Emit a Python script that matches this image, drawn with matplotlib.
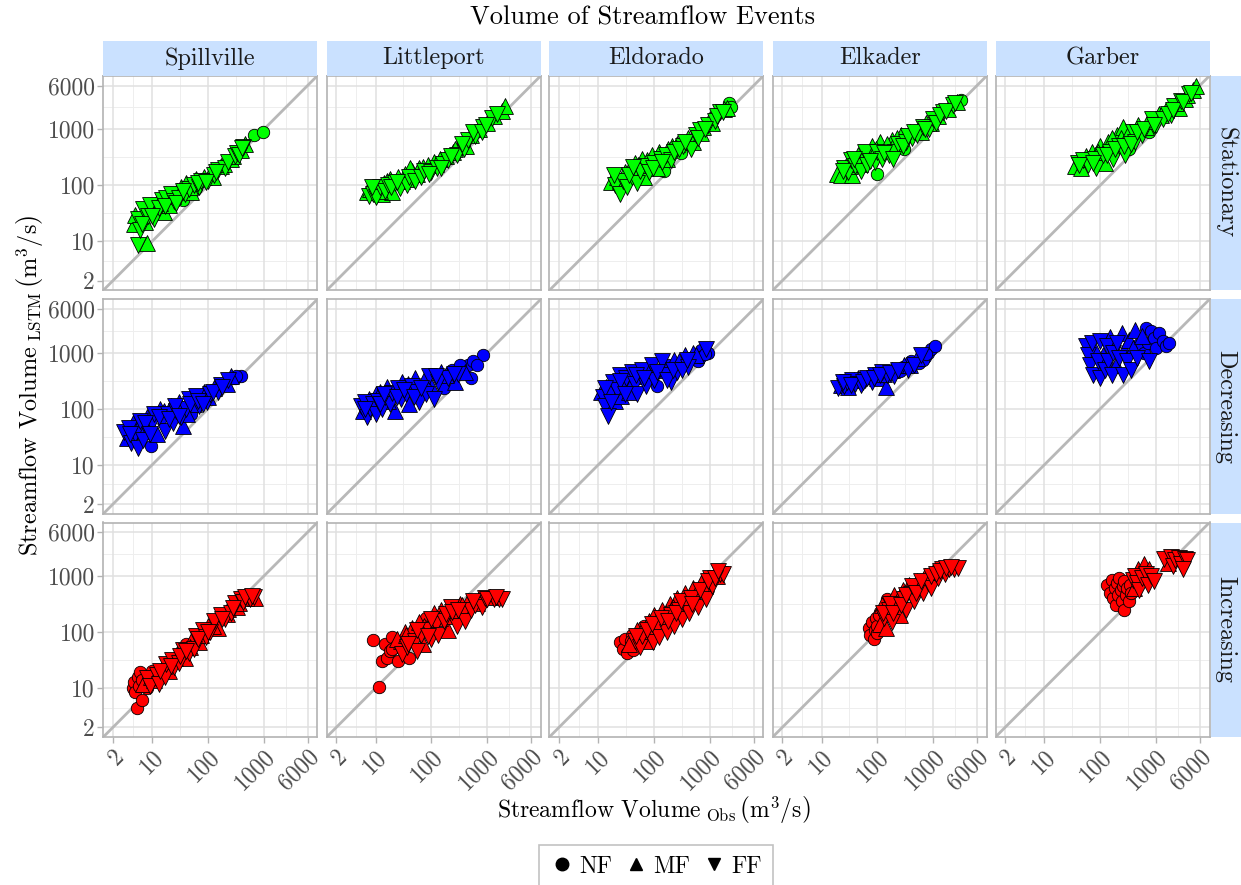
import matplotlib
matplotlib.use('Agg')
import matplotlib.pyplot as plt
from matplotlib.patches import Rectangle
from matplotlib.lines import Line2D

plt.rcParams['font.family'] = 'cmr10'
plt.rcParams['mathtext.fontset'] = 'cm'
plt.rcParams['axes.formatter.use_mathtext'] = True

# ---------------- data ----------------
sites = ['Spillville', 'Littleport', 'Eldorado', 'Elkader', 'Garber']
trends = ['Stationary', 'Decreasing', 'Increasing']
trend_colors = ['#00FF00', '#0000FF', '#FF0000']
tick_values = [2, 10, 100, 1000, 6000]
tick_labels = ['2', '10', '100', '1000', '6000']
minor_values = [4.47, 31.6, 316, 2449]
event_types = ['NF', 'MF', 'FF']
event_codes = ['N', 'M', 'F']

# (observed volume, LSTM volume, event type)
stationary_spillville = [
    (5.7, 8.5, 'F'), (8.0, 9.5, 'M'), (4.8, 20, 'M'), (5.5, 25, 'F'), (6.0, 16, 'F'), (6.5, 30, 'M'),
    (7.0, 38, 'F'), (7.5, 22, 'M'), (8.5, 28, 'F'), (9, 45, 'F'), (10, 35, 'M'), (11, 25, 'F'),
    (12, 50, 'M'), (13, 40, 'F'), (15, 55, 'F'), (16, 33, 'M'), (18, 60, 'F'), (20, 45, 'M'),
    (22, 70, 'F'), (25, 52, 'F'), (28, 80, 'M'), (30, 60, 'F'), (33, 95, 'M'), (38, 70, 'F'),
    (40, 110, 'M'), (45, 85, 'F'), (50, 75, 'M'), (55, 100, 'F'), (60, 130, 'M'), (70, 95, 'F'),
    (75, 120, 'F'), (85, 140, 'M'), (100, 120, 'F'), (110, 160, 'M'), (130, 150, 'F'), (150, 190, 'F'),
    (170, 220, 'M'), (200, 200, 'F'), (230, 260, 'F'), (260, 300, 'M'), (300, 330, 'F'), (330, 380, 'F'),
    (380, 420, 'M'), (420, 480, 'F'), (450, 550, 'M'), (650, 780, 'N'), (950, 900, 'N'), (60, 90, 'N'),
    (35, 55, 'N'), (5, 30, 'M'), (6.5, 20, 'F'), (8, 35, 'M'), (10, 28, 'F'), (14, 48, 'M'),
    (17, 42, 'F'), (24, 65, 'M'), (27, 48, 'F'), (36, 80, 'F'), (48, 95, 'M'), (65, 110, 'F'),
    (90, 115, 'F'), (120, 140, 'M'), (140, 170, 'F'), (190, 240, 'M'), (280, 330, 'M'), (350, 350, 'F'),
    (400, 470, 'F')]
stationary_littleport = [
    (7, 75, 'M'), (7.5, 65, 'F'), (8, 85, 'M'), (9, 70, 'F'), (10, 90, 'M'), (10, 62, 'F'),
    (11, 78, 'M'), (12, 95, 'F'), (13, 70, 'M'), (14, 110, 'M'), (15, 80, 'F'), (17, 100, 'F'),
    (18, 130, 'M'), (20, 75, 'M'), (22, 110, 'F'), (25, 140, 'M'), (27, 90, 'F'), (30, 120, 'M'),
    (33, 160, 'M'), (36, 100, 'F'), (40, 140, 'F'), (45, 180, 'M'), (50, 120, 'F'), (55, 160, 'M'),
    (60, 200, 'M'), (65, 140, 'F'), (75, 180, 'F'), (85, 230, 'M'), (100, 170, 'F'), (110, 260, 'M'),
    (125, 200, 'F'), (140, 300, 'M'), (160, 240, 'F'), (180, 330, 'M'), (200, 280, 'F'), (240, 400, 'M'),
    (280, 350, 'F'), (320, 500, 'M'), (380, 450, 'F'), (450, 650, 'F'), (500, 800, 'M'), (600, 750, 'F'),
    (700, 1000, 'M'), (850, 1100, 'F'), (1000, 1300, 'M'), (1200, 1600, 'F'), (1500, 1900, 'F'),
    (1800, 2100, 'M'), (2100, 2600, 'M'), (8.5, 95, 'F'), (12, 80, 'M'), (16, 120, 'M'), (19, 95, 'F'),
    (24, 115, 'F'), (35, 130, 'M'), (42, 200, 'M'), (70, 210, 'M'), (90, 160, 'F'), (120, 240, 'M'),
    (150, 200, 'F'), (220, 330, 'F'), (260, 450, 'M'), (350, 550, 'F'), (420, 500, 'M'), (550, 900, 'F'),
    (800, 900, 'F'), (950, 1200, 'F'), (1300, 1700, 'M')]
stationary_eldorado = [
    (17, 115, 'M'), (20, 100, 'F'), (22, 140, 'M'), (25, 70, 'F'), (28, 120, 'F'), (30, 170, 'M'),
    (33, 95, 'F'), (37, 200, 'M'), (40, 140, 'F'), (45, 250, 'M'), (50, 110, 'F'), (55, 180, 'F'),
    (60, 300, 'M'), (65, 140, 'M'), (70, 220, 'F'), (80, 170, 'F'), (90, 350, 'M'), (100, 250, 'F'),
    (110, 200, 'M'), (120, 400, 'M'), (130, 300, 'F'), (150, 180, 'N'), (160, 350, 'F'), (180, 450, 'M'),
    (200, 280, 'F'), (230, 400, 'F'), (260, 550, 'M'), (300, 380, 'N'), (330, 500, 'F'), (400, 700, 'M'),
    (450, 450, 'F'), (500, 600, 'M'), (550, 800, 'F'), (650, 950, 'F'), (750, 1100, 'M'), (900, 1200, 'F'),
    (1000, 1500, 'M'), (1200, 1400, 'F'), (1500, 2000, 'F'), (1800, 2300, 'M'), (2200, 2900, 'N'),
    (2400, 2500, 'N'), (19, 150, 'F'), (24, 120, 'M'), (35, 150, 'F'), (42, 210, 'F'), (52, 230, 'M'),
    (75, 280, 'M'), (95, 200, 'F'), (140, 260, 'F'), (170, 300, 'M'), (210, 500, 'M'), (280, 450, 'F'),
    (360, 600, 'F'), (420, 550, 'N'), (600, 700, 'F'), (700, 850, 'M'), (800, 1000, 'F'), (1100, 1300, 'M'),
    (1300, 1700, 'F'), (1700, 2000, 'F'), (2000, 2400, 'M')]
stationary_elkader = [
    (19, 160, 'M'), (22, 150, 'M'), (25, 200, 'F'), (28, 240, 'M'), (30, 170, 'F'), (33, 280, 'F'),
    (35, 150, 'M'), (40, 220, 'F'), (45, 350, 'M'), (50, 180, 'F'), (55, 280, 'M'), (60, 400, 'F'),
    (65, 230, 'F'), (70, 320, 'M'), (80, 500, 'M'), (90, 260, 'F'), (100, 400, 'F'), (100, 160, 'N'),
    (110, 600, 'M'), (120, 300, 'F'), (140, 450, 'M'), (160, 350, 'F'), (180, 650, 'M'), (200, 400, 'F'),
    (230, 550, 'F'), (260, 800, 'M'), (300, 450, 'N'), (320, 600, 'F'), (380, 900, 'M'), (420, 700, 'F'),
    (500, 800, 'F'), (550, 1000, 'M'), (650, 1100, 'F'), (750, 1300, 'M'), (850, 1000, 'F'),
    (1000, 1500, 'F'), (1200, 1700, 'M'), (1500, 2000, 'F'), (1800, 2300, 'M'), (2200, 2700, 'F'),
    (2600, 3000, 'M'), (3100, 3300, 'N'), (24, 180, 'F'), (32, 220, 'M'), (38, 300, 'F'), (48, 240, 'M'),
    (58, 350, 'M'), (75, 270, 'F'), (95, 450, 'M'), (130, 380, 'F'), (150, 550, 'M'), (190, 300, 'F'),
    (220, 700, 'M'), (280, 500, 'F'), (350, 750, 'F'), (450, 900, 'F'), (600, 900, 'M'), (700, 1000, 'F'),
    (900, 1300, 'M'), (1100, 1300, 'F'), (1300, 1800, 'F'), (1700, 2100, 'F'), (2400, 2900, 'F')]
stationary_garber = [
    (36, 220, 'M'), (40, 250, 'F'), (45, 200, 'M'), (50, 280, 'F'), (55, 330, 'M'), (60, 230, 'F'),
    (70, 400, 'M'), (80, 300, 'F'), (85, 200, 'F'), (100, 500, 'M'), (110, 350, 'F'), (120, 250, 'M'),
    (140, 600, 'M'), (150, 400, 'F'), (170, 300, 'F'), (200, 800, 'M'), (220, 500, 'F'), (250, 1100, 'M'),
    (280, 350, 'F'), (300, 650, 'M'), (330, 450, 'N'), (380, 900, 'F'), (420, 600, 'F'), (480, 1200, 'M'),
    (550, 800, 'F'), (650, 1100, 'M'), (750, 900, 'N'), (850, 1500, 'F'), (1000, 1200, 'F'),
    (1100, 1900, 'M'), (1300, 1500, 'F'), (1500, 2200, 'M'), (1800, 1800, 'F'), (2100, 2600, 'F'),
    (2500, 2400, 'M'), (2800, 3200, 'F'), (3300, 3500, 'M'), (3800, 4200, 'F'), (4500, 5000, 'M'),
    (5200, 5800, 'M'), (42, 230, 'F'), (65, 300, 'M'), (75, 250, 'F'), (90, 400, 'M'), (130, 350, 'F'),
    (160, 700, 'M'), (180, 450, 'F'), (230, 700, 'M'), (260, 500, 'F'), (320, 900, 'M'), (350, 550, 'F'),
    (450, 900, 'F'), (600, 1000, 'F'), (700, 1400, 'M'), (900, 1200, 'F'), (1200, 1800, 'M'),
    (1600, 1900, 'F'), (2000, 2200, 'F'), (2300, 2900, 'M'), (3000, 3000, 'F'), (3600, 4000, 'M'),
    (4200, 4500, 'F')]

decreasing_spillville = [
    (3.2, 38, 'F'), (3.5, 30, 'M'), (3.8, 45, 'F'), (4.2, 25, 'F'), (4.5, 55, 'M'), (5, 35, 'F'),
    (5.5, 20, 'F'), (6, 60, 'F'), (6.5, 40, 'M'), (7, 28, 'F'), (8, 70, 'M'), (8.5, 45, 'F'),
    (9.5, 22, 'N'), (10, 55, 'F'), (11, 80, 'F'), (12, 35, 'M'), (14, 100, 'M'), (15, 60, 'F'),
    (17, 40, 'F'), (19, 80, 'F'), (22, 110, 'M'), (24, 55, 'F'), (27, 90, 'F'), (30, 130, 'M'),
    (33, 70, 'F'), (36, 50, 'M'), (40, 100, 'F'), (45, 150, 'F'), (50, 80, 'N'), (55, 120, 'M'),
    (60, 170, 'F'), (70, 110, 'F'), (75, 140, 'N'), (85, 200, 'M'), (95, 130, 'F'), (110, 180, 'F'),
    (130, 230, 'M'), (150, 200, 'F'), (170, 260, 'F'), (200, 300, 'M'), (230, 330, 'F'), (260, 380, 'M'),
    (300, 350, 'N'), (390, 390, 'N'), (4, 35, 'F'), (5.5, 45, 'M'), (7.5, 55, 'F'), (9, 35, 'F'),
    (13, 70, 'F'), (16, 90, 'M'), (20, 65, 'F'), (26, 110, 'F'), (30, 75, 'F'), (42, 80, 'M'),
    (48, 120, 'F'), (65, 140, 'F'), (80, 120, 'F'), (100, 160, 'M'), (120, 200, 'F'), (180, 240, 'F'),
    (220, 280, 'M'), (320, 380, 'N')]
decreasing_littleport = [
    (5.5, 110, 'F'), (6, 90, 'M'), (6.5, 130, 'F'), (7, 70, 'F'), (7.5, 150, 'M'), (8, 100, 'F'),
    (9, 120, 'F'), (10, 180, 'M'), (10, 80, 'F'), (11, 140, 'F'), (12, 200, 'M'), (13, 100, 'F'),
    (15, 160, 'F'), (16, 240, 'M'), (18, 120, 'F'), (20, 190, 'F'), (22, 90, 'M'), (25, 230, 'F'),
    (28, 150, 'F'), (30, 300, 'M'), (35, 180, 'F'), (40, 120, 'M'), (45, 250, 'F'), (50, 350, 'M'),
    (55, 200, 'F'), (60, 130, 'F'), (70, 280, 'M'), (80, 180, 'F'), (90, 380, 'F'), (100, 250, 'M'),
    (110, 150, 'F'), (130, 300, 'F'), (150, 450, 'M'), (170, 230, 'N'), (200, 350, 'F'), (230, 500, 'N'),
    (260, 300, 'M'), (300, 420, 'F'), (350, 550, 'N'), (400, 450, 'M'), (450, 600, 'N'), (500, 350, 'N'),
    (830, 920, 'N'), (6.5, 100, 'F'), (8.5, 140, 'M'), (12, 120, 'F'), (14, 180, 'F'), (17, 140, 'M'),
    (24, 160, 'F'), (32, 220, 'F'), (38, 280, 'M'), (48, 160, 'F'), (65, 230, 'F'), (75, 330, 'M'),
    (120, 380, 'F'), (180, 400, 'M'), (250, 420, 'F'), (320, 600, 'N'), (550, 700, 'N'), (650, 600, 'N')]
decreasing_eldorado = [
    (11, 200, 'M'), (12, 160, 'F'), (13, 110, 'F'), (14, 240, 'M'), (15, 75, 'F'), (16, 180, 'F'),
    (18, 300, 'F'), (20, 140, 'M'), (22, 220, 'F'), (24, 400, 'F'), (26, 170, 'M'), (28, 260, 'F'),
    (32, 350, 'F'), (35, 200, 'M'), (40, 450, 'F'), (45, 280, 'F'), (50, 180, 'F'), (55, 380, 'M'),
    (60, 500, 'F'), (70, 250, 'F'), (80, 420, 'M'), (90, 600, 'F'), (100, 330, 'F'), (110, 250, 'N'),
    (120, 500, 'M'), (140, 700, 'F'), (160, 400, 'F'), (180, 600, 'N'), (200, 300, 'F'), (230, 750, 'M'),
    (260, 450, 'F'), (300, 650, 'N'), (350, 900, 'M'), (400, 550, 'F'), (450, 800, 'N'), (500, 1000, 'M'),
    (600, 700, 'N'), (700, 1100, 'N'), (900, 1000, 'N'), (850, 1150, 'F'), (13, 230, 'F'), (17, 130, 'F'),
    (19, 250, 'M'), (25, 310, 'F'), (30, 180, 'F'), (38, 320, 'M'), (48, 400, 'F'), (65, 350, 'F'),
    (75, 480, 'M'), (110, 450, 'F'), (150, 550, 'M'), (170, 330, 'F'), (220, 500, 'F'), (280, 700, 'M'),
    (320, 500, 'F'), (380, 750, 'F'), (550, 900, 'M'), (650, 850, 'N'), (800, 950, 'N')]
decreasing_elkader = [
    (20, 230, 'F'), (22, 270, 'M'), (25, 250, 'F'), (28, 300, 'F'), (30, 240, 'M'), (35, 320, 'F'),
    (40, 280, 'F'), (45, 350, 'M'), (50, 260, 'F'), (60, 330, 'F'), (70, 380, 'M'), (80, 300, 'F'),
    (90, 400, 'F'), (100, 350, 'M'), (120, 450, 'F'), (140, 240, 'M'), (150, 400, 'F'), (180, 500, 'M'),
    (200, 380, 'F'), (250, 480, 'N'), (300, 600, 'M'), (350, 500, 'F'), (400, 700, 'N'), (450, 600, 'F'),
    (500, 800, 'M'), (550, 650, 'N'), (600, 900, 'F'), (700, 850, 'N'), (800, 1000, 'N'),
    (900, 1150, 'N'), (1050, 1300, 'N'), (24, 300, 'F'), (33, 270, 'F'), (38, 330, 'M'), (55, 300, 'F'),
    (65, 350, 'F'), (85, 350, 'F'), (110, 400, 'F'), (130, 420, 'M'), (170, 430, 'F'), (230, 500, 'F'),
    (280, 550, 'N'), (380, 600, 'M'), (650, 750, 'N'), (750, 950, 'N')]
decreasing_garber = [
    (55, 1300, 'F'), (60, 900, 'F'), (65, 600, 'F'), (70, 1500, 'F'), (75, 400, 'F'), (80, 1100, 'M'),
    (90, 700, 'F'), (100, 1600, 'F'), (100, 350, 'F'), (110, 900, 'M'), (120, 500, 'F'), (130, 1300, 'F'),
    (140, 700, 'F'), (150, 1900, 'M'), (160, 400, 'F'), (170, 1000, 'F'), (190, 600, 'M'), (200, 1500, 'F'),
    (220, 800, 'F'), (240, 2200, 'M'), (250, 400, 'F'), (270, 1100, 'M'), (300, 700, 'F'), (320, 1700, 'M'),
    (350, 500, 'F'), (380, 1200, 'M'), (420, 2500, 'M'), (450, 800, 'F'), (500, 1400, 'N'), (550, 2000, 'M'),
    (600, 1000, 'N'), (650, 2800, 'N'), (700, 1500, 'N'), (800, 2400, 'N'), (900, 1800, 'N'),
    (1000, 1200, 'N'), (1100, 2200, 'N'), (1300, 1600, 'N'), (1500, 1300, 'N'), (1700, 1500, 'N'),
    (750, 700, 'F')]

increasing_spillville = [
    (4.5, 10, 'N'), (4.8, 13, 'N'), (5.0, 8.5, 'N'), (5.3, 4.4, 'N'), (5.5, 16, 'N'), (5.8, 11, 'N'),
    (6.5, 6, 'N'), (6.0, 19, 'N'), (7, 12, 'M'), (8, 15, 'F'), (9, 11, 'F'), (10, 20, 'N'),
    (11, 14, 'M'), (12, 17, 'F'), (13, 12, 'F'), (15, 22, 'M'), (17, 16, 'F'), (18, 27, 'F'),
    (20, 20, 'M'), (23, 32, 'F'), (25, 24, 'F'), (28, 40, 'M'), (30, 28, 'F'), (35, 48, 'F'),
    (38, 35, 'M'), (40, 60, 'N'), (45, 42, 'F'), (50, 70, 'M'), (55, 50, 'F'), (60, 85, 'F'),
    (70, 65, 'M'), (80, 110, 'F'), (90, 80, 'F'), (100, 130, 'M'), (110, 100, 'F'), (130, 160, 'F'),
    (150, 120, 'M'), (170, 200, 'F'), (200, 170, 'F'), (230, 260, 'M'), (260, 220, 'F'), (300, 330, 'F'),
    (330, 280, 'M'), (380, 380, 'F'), (420, 340, 'F'), (480, 400, 'M'), (550, 380, 'F'), (650, 420, 'F'),
    (700, 400, 'M'), (6.5, 14, 'N'), (8, 10, 'N'), (9.5, 16, 'M'), (14, 20, 'F'), (16, 25, 'M'),
    (22, 25, 'F'), (26, 35, 'M'), (32, 38, 'F'), (40, 45, 'F'), (48, 55, 'M'), (65, 75, 'F'),
    (75, 90, 'M'), (100, 100, 'F'), (120, 130, 'M'), (180, 170, 'F'), (220, 210, 'M'), (280, 270, 'F'),
    (350, 330, 'M'), (450, 420, 'F'), (600, 430, 'F')]
increasing_littleport = [
    (9, 72, 'N'), (11.5, 10.5, 'N'), (13, 30, 'N'), (15, 60, 'N'), (16, 35, 'N'), (18, 45, 'N'),
    (20, 80, 'N'), (22, 55, 'N'), (25, 30, 'N'), (28, 70, 'M'), (30, 40, 'F'), (33, 100, 'M'),
    (36, 55, 'F'), (40, 35, 'N'), (45, 120, 'M'), (50, 70, 'F'), (55, 45, 'F'), (60, 150, 'M'),
    (65, 90, 'F'), (70, 60, 'M'), (80, 180, 'N'), (90, 110, 'F'), (100, 75, 'F'), (110, 220, 'M'),
    (120, 140, 'F'), (130, 90, 'F'), (150, 250, 'M'), (170, 160, 'F'), (200, 110, 'M'), (220, 280, 'F'),
    (250, 190, 'M'), (280, 130, 'F'), (320, 320, 'M'), (360, 220, 'F'), (400, 160, 'F'), (450, 350, 'M'),
    (500, 250, 'F'), (600, 300, 'F'), (700, 380, 'M'), (800, 280, 'F'), (900, 400, 'F'), (1100, 420, 'M'),
    (1300, 380, 'F'), (1600, 390, 'F'), (1800, 380, 'F'), (20, 50, 'N'), (24, 75, 'M'), (35, 90, 'M'),
    (38, 60, 'F'), (55, 110, 'F'), (75, 130, 'M'), (85, 85, 'F'), (100, 170, 'F'), (140, 180, 'M'),
    (180, 210, 'F'), (230, 230, 'F'), (300, 250, 'F'), (350, 300, 'M'), (550, 350, 'F'), (650, 330, 'M'),
    (1000, 380, 'F'), (1400, 420, 'F')]
increasing_eldorado = [
    (24, 65, 'N'), (28, 50, 'N'), (30, 75, 'N'), (33, 42, 'N'), (35, 60, 'M'), (40, 90, 'N'),
    (42, 48, 'N'), (45, 70, 'F'), (50, 110, 'M'), (55, 55, 'F'), (60, 85, 'F'), (65, 130, 'N'),
    (70, 70, 'M'), (80, 160, 'M'), (85, 95, 'F'), (95, 65, 'F'), (100, 200, 'M'), (110, 120, 'F'),
    (120, 80, 'F'), (140, 250, 'M'), (150, 150, 'F'), (170, 100, 'F'), (190, 320, 'M'), (200, 200, 'F'),
    (230, 130, 'F'), (260, 400, 'M'), (280, 250, 'F'), (320, 170, 'F'), (350, 500, 'M'), (380, 300, 'F'),
    (420, 220, 'F'), (500, 600, 'M'), (550, 380, 'F'), (600, 280, 'F'), (700, 750, 'M'), (750, 500, 'F'),
    (850, 380, 'F'), (1000, 900, 'F'), (1100, 650, 'F'), (1300, 1000, 'M'), (1500, 1100, 'F'),
    (1700, 1100, 'F'), (38, 70, 'N'), (48, 85, 'F'), (58, 100, 'M'), (75, 110, 'F'), (90, 140, 'F'),
    (130, 180, 'F'), (160, 220, 'M'), (180, 160, 'F'), (220, 280, 'M'), (250, 220, 'F'), (300, 350, 'F'),
    (330, 260, 'M'), (450, 400, 'F'), (480, 320, 'F'), (650, 550, 'F'), (800, 650, 'M'), (900, 800, 'F'),
    (1200, 900, 'F'), (1400, 1200, 'F')]
increasing_elkader = [
    (70, 120, 'N'), (75, 90, 'N'), (80, 150, 'N'), (85, 75, 'N'), (90, 110, 'N'), (95, 180, 'N'),
    (100, 95, 'N'), (110, 230, 'N'), (110, 140, 'M'), (120, 300, 'M'), (130, 180, 'F'), (140, 120, 'M'),
    (150, 380, 'N'), (160, 250, 'F'), (180, 150, 'F'), (200, 450, 'M'), (220, 300, 'F'), (250, 200, 'M'),
    (280, 550, 'M'), (300, 380, 'F'), (330, 250, 'F'), (370, 700, 'M'), (400, 480, 'F'), (450, 350, 'F'),
    (500, 800, 'M'), (550, 600, 'F'), (650, 500, 'F'), (700, 1000, 'M'), (800, 750, 'F'), (900, 600, 'F'),
    (1000, 1150, 'M'), (1200, 900, 'F'), (1400, 1300, 'F'), (1600, 1100, 'F'), (1900, 1300, 'F'),
    (2300, 1350, 'F'), (2700, 1400, 'F'), (100, 130, 'N'), (105, 200, 'N'), (125, 220, 'F'),
    (140, 280, 'M'), (170, 320, 'F'), (190, 220, 'F'), (230, 380, 'M'), (260, 300, 'F'), (320, 450, 'F'),
    (350, 550, 'M'), (420, 650, 'F'), (480, 500, 'F'), (600, 800, 'F'), (750, 850, 'M'), (900, 1000, 'F'),
    (1100, 1100, 'F'), (1300, 1200, 'F'), (1700, 1400, 'F'), (2100, 1450, 'F')]
increasing_garber = [
    (130, 700, 'N'), (150, 500, 'N'), (160, 850, 'N'), (170, 400, 'N'), (180, 600, 'N'), (190, 300, 'N'),
    (200, 750, 'N'), (210, 450, 'N'), (220, 900, 'N'), (230, 550, 'N'), (240, 350, 'N'), (250, 650, 'N'),
    (260, 250, 'N'), (270, 800, 'N'), (290, 450, 'N'), (300, 600, 'N'), (320, 350, 'N'), (340, 700, 'N'),
    (360, 500, 'N'), (380, 850, 'F'), (400, 600, 'M'), (420, 1000, 'F'), (450, 750, 'F'), (480, 1300, 'M'),
    (500, 550, 'F'), (550, 900, 'F'), (600, 1600, 'M'), (650, 1100, 'F'), (700, 700, 'F'), (750, 1300, 'M'),
    (800, 1000, 'F'), (900, 800, 'F'), (1400, 2000, 'F'), (1600, 1700, 'M'), (1800, 2200, 'F'),
    (2000, 1500, 'F'), (2200, 1900, 'F'), (2500, 2100, 'F'), (2800, 1600, 'F'), (3200, 2000, 'F'),
    (3600, 1900, 'F'), (3000, 1300, 'F')]

panel_data = [
    [stationary_spillville, stationary_littleport, stationary_eldorado, stationary_elkader, stationary_garber],
    [decreasing_spillville, decreasing_littleport, decreasing_eldorado, decreasing_elkader, decreasing_garber],
    [increasing_spillville, increasing_littleport, increasing_eldorado, increasing_elkader, increasing_garber],
]

# ---------------- layout / style ----------------
W, H = 1241, 885
DPI = 100
fig = plt.figure(figsize=(W / DPI, H / DPI), dpi=DPI)

col_left = [103.3, 326.7, 549.4, 772.7, 995.5]
panel_w = 214.0
row_top = [75.8, 299.3, 522.5]
panel_h = 214.5
strip_top = 40.7
strip_right_x0 = 1210.5
strip_color = '#CAE1FF'
grid_major = '#e0e0e0'
grid_minor = '#eeeeee'
border_col = '#b3b3b3'
tick_text_col = '#4d4d4d'
marker_map = {'N': 'o', 'M': '^', 'F': 'v'}
marker_size = {'N': 80, 'M': 130, 'F': 130}
lo, hi = 2 / 10 ** 0.1738, 6000 * 10 ** 0.1738


def fx(px):
    return px / W


def fy(py):
    return 1 - py / H


for r, trend in enumerate(trends):
    for c, site in enumerate(sites):
        ax = fig.add_axes([fx(col_left[c]), fy(row_top[r] + panel_h), panel_w / W, panel_h / H])
        ax.set_xscale('log')
        ax.set_yscale('log')
        ax.set_xlim(lo, hi)
        ax.set_ylim(lo, hi)
        for v in minor_values:
            ax.axvline(v, color=grid_minor, lw=0.7, zorder=0)
            ax.axhline(v, color=grid_minor, lw=0.7, zorder=0)
        for v in tick_values:
            ax.axvline(v, color=grid_major, lw=1.1, zorder=0)
            ax.axhline(v, color=grid_major, lw=1.1, zorder=0)
        ax.axline((1, 1), (10, 10), color='#b8b8b8', lw=2.0, zorder=1)
        pts = panel_data[r][c]
        for code in event_codes:
            xs = [p[0] for p in pts if p[2] == code]
            ys = [p[1] for p in pts if p[2] == code]
            if xs:
                ax.scatter(xs, ys, marker=marker_map[code], s=marker_size[code],
                           c=trend_colors[r], edgecolors='black', linewidths=0.6, zorder=3)
        ax.set_xticks(tick_values)
        ax.set_yticks(tick_values)
        ax.minorticks_off()
        ax.tick_params(axis='both', which='major', length=4, width=1.0, color=border_col,
                       labelcolor=tick_text_col, labelsize=17, pad=2)
        if c == 0:
            ax.set_yticklabels(tick_labels)
        else:
            ax.tick_params(axis='y', length=0, labelleft=False)
        if r == 2:
            ax.set_xticklabels(tick_labels, rotation=45, ha='right', va='top', rotation_mode='anchor')
        else:
            ax.tick_params(axis='x', length=0, labelbottom=False)
        for s in ax.spines.values():
            s.set_color(border_col)
            s.set_linewidth(1.2)
        ax.set_axisbelow(True)

# top strips
for c, site in enumerate(sites):
    fig.add_artist(Rectangle((fx(col_left[c]), fy(row_top[0])), panel_w / W, (row_top[0] - strip_top) / H,
                             transform=fig.transFigure, facecolor=strip_color, edgecolor='none'))
    fig.text(fx(col_left[c] + panel_w / 2), fy((strip_top + row_top[0]) / 2), site,
             ha='center', va='center', fontsize=17.5, color='#1a1a1a')

# right strips
for r, trend in enumerate(trends):
    fig.add_artist(Rectangle((fx(strip_right_x0), fy(row_top[r] + panel_h)), (W - strip_right_x0) / W,
                             panel_h / H, transform=fig.transFigure, facecolor=strip_color, edgecolor='none'))
    fig.text(fx((strip_right_x0 + W) / 2), fy(row_top[r] + panel_h / 2), trend,
             ha='center', va='center', rotation=270, fontsize=17.5, color='#1a1a1a')

# titles
fig.text(fx(643), fy(18), 'Volume of Streamflow Events', ha='center', va='center', fontsize=19)
fig.text(fx(654), fy(810), r'Streamflow Volume$_{\ \mathrm{Obs}}\,\left(\mathrm{m}^3/\mathrm{s}\right)$',
         ha='center', va='center', fontsize=17)
fig.text(fx(30), fy(385), r'Streamflow Volume$_{\ \mathrm{LSTM}}\,\left(\mathrm{m}^3/\mathrm{s}\right)$',
         ha='center', va='center', rotation=90, fontsize=17.5)

# legend
handles = [Line2D([], [], linestyle='none', marker=marker_map[code], color='black',
                  markersize=9) for code in event_codes]
leg = fig.legend(handles, event_types, loc='center', bbox_to_anchor=(fx(656), fy(866.7)), ncol=3,
                 frameon=True, fancybox=False, edgecolor=border_col, fontsize=17,
                 handletextpad=0.25, columnspacing=0.5, handlelength=1.0, borderpad=0.45)
leg.get_frame().set_linewidth(1.2)

fig.savefig('out.png', dpi=DPI)
